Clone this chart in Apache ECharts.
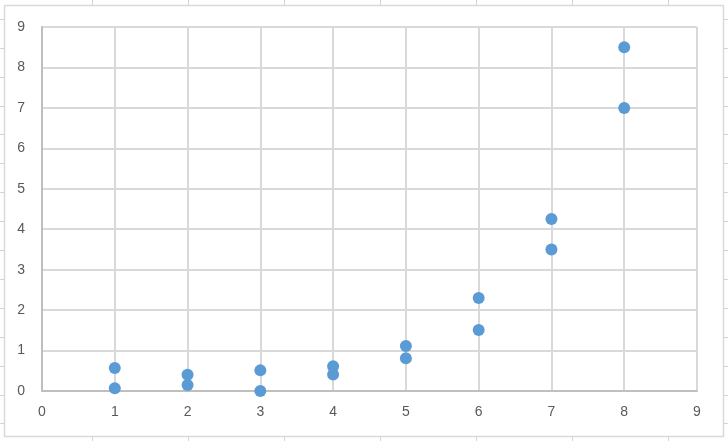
<!DOCTYPE html>
<html>
<head>
<meta charset="utf-8">
<script src="https://cdn.jsdelivr.net/npm/echarts@6/dist/echarts.min.js"></script>
<style>html,body{margin:0;padding:0;background:#fff;}#c{width:728px;height:441px;}</style>
</head>
<body>
<div id="c"></div>
<script>
var xValues = [1, 1, 2, 2, 3, 3, 4, 4, 5, 5, 6, 6, 7, 7, 8, 8];
var yValues = [0.57, 0.07, 0.40, 0.15, 0.51, 0.0, 0.61, 0.41, 1.11, 0.81, 2.30, 1.51, 4.25, 3.50, 8.50, 7.00];
var xTicks = [0, 1, 2, 3, 4, 5, 6, 7, 8, 9];
var yTicks = [0, 1, 2, 3, 4, 5, 6, 7, 8, 9];
// spreadsheet background cell lines (decoration)
var sheetCols = [91.7, 187.7, 283.7, 379.7, 475.7, 571.7, 667.7];
var sheetRows = [18.8, 47.7, 76.6, 105.5, 134.4, 163.3, 192.2, 221.1, 250, 278.9, 307.8, 336.7, 365.6, 394.5, 423.4];

var points = xValues.map(function (x, i) { return [x, yValues[i]]; });

var graphics = [];
sheetCols.forEach(function (x) {
  graphics.push({ type: 'line', z: -100, silent: true,
    shape: { x1: Math.round(x) + 0.5, y1: 0, x2: Math.round(x) + 0.5, y2: 441 },
    style: { stroke: '#d4d4d4', lineWidth: 1 } });
});
sheetRows.forEach(function (y) {
  graphics.push({ type: 'line', z: -100, silent: true,
    shape: { x1: 0, y1: Math.round(y) + 0.5, x2: 728, y2: Math.round(y) + 0.5 },
    style: { stroke: '#d4d4d4', lineWidth: 1 } });
});
graphics.push({ type: 'rect', z: -50, silent: true,
  shape: { x: 4.5, y: 5.5, width: 719, height: 431 },
  style: { fill: '#ffffff', stroke: '#d9d9d9', lineWidth: 1.5 } });

var chart = echarts.init(document.getElementById('c'), null, { renderer: 'canvas' });
chart.setOption({
  animation: false,
  backgroundColor: '#ffffff',
  graphic: graphics,
  grid: { left: 42, top: 27, right: 31, bottom: 50, containLabel: false },
  xAxis: {
    type: 'value', min: xTicks[0], max: xTicks[xTicks.length - 1], interval: 1,
    axisLine: { show: true, onZero: false, lineStyle: { color: '#bfbfbf', width: 2 } },
    axisTick: { show: false },
    axisLabel: { color: '#595959', fontSize: 14, fontFamily: 'Liberation Sans, Arial, sans-serif', margin: 14 },
    splitLine: { show: true, lineStyle: { color: '#d9d9d9', width: 2 } }
  },
  yAxis: {
    type: 'value', min: yTicks[0], max: yTicks[yTicks.length - 1], interval: 1,
    axisLine: { show: true, onZero: false, lineStyle: { color: '#bfbfbf', width: 2 } },
    axisTick: { show: false },
    axisLabel: { color: '#595959', fontSize: 14, fontFamily: 'Liberation Sans, Arial, sans-serif', margin: 17 },
    splitLine: { show: true, lineStyle: { color: '#d9d9d9', width: 2 } }
  },
  series: [{
    type: 'scatter',
    data: points,
    symbol: 'circle',
    symbolSize: 12,
    itemStyle: { color: '#5b9bd5', opacity: 1 },
    z: 5
  }]
});
</script>
</body>
</html>
